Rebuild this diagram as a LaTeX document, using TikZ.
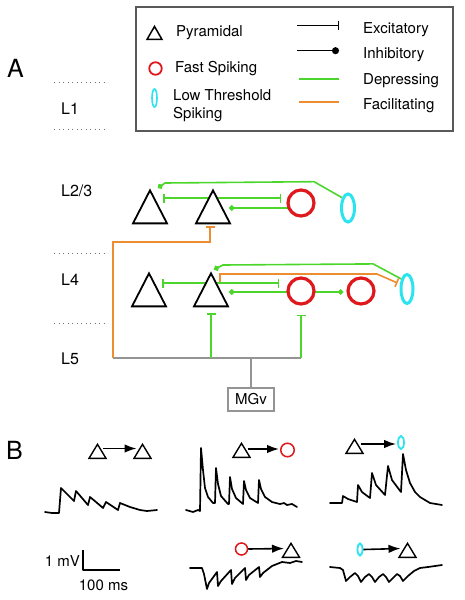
\documentclass[tikz,border=0pt]{standalone}
\usepackage{fontspec}
\setmainfont{TeX Gyre Heros}
\usetikzlibrary{arrows.meta,shapes.geometric,backgrounds,calc}

\definecolor{depgreen}{RGB}{76,214,44}
\definecolor{facorange}{RGB}{238,140,48}
\definecolor{fsred}{RGB}{222,24,28}
\definecolor{ltscyan}{RGB}{44,228,240}

\begin{document}
\begin{tikzpicture}[x=1pt, y=-1pt,
    every node/.style={font=\fontsize{15}{18}\selectfont},
    txt/.style={inner sep=0pt, anchor=base west},
    lbl/.style={txt, font=\fontsize{16}{16}\selectfont},
    panel/.style={txt, font=\fontsize{25}{25}\selectfont},
    pyr/.style={draw, fill=white, line width=1.8pt, isosceles triangle, isosceles triangle stretches,
        shape border rotate=90, minimum width=34pt, minimum height=33pt, inner sep=0pt, anchor=apex},
    pyrs/.style={pyr, line width=1.4pt, minimum width=17pt, minimum height=14pt},
    fs/.style={circle, draw=fsred, fill=white, line width=3.2pt, minimum size=26pt, inner sep=0pt},
    lts/.style={ellipse, draw=ltscyan, fill=white, line width=3pt, minimum width=13pt, minimum height=28pt, inner sep=0pt},
    syn/.style={line width=1.6pt},
    dep/.style={syn, draw=depgreen},
    fac/.style={syn, draw=facorange},
    exc/.style={-{Bar[width=9pt]}},
    inh/.style={-{Circle[length=5.5pt]}},
    thal/.style={line width=1.5pt, draw=black!42},
    laysep/.style={draw=black!55, line width=0.9pt, dash pattern=on 0.9pt off 3.6pt},
    icoarr/.style={line width=1.6pt, -{Latex[length=12pt,width=8.5pt]}, shorten >=1pt},
    trace/.style={line width=1.7pt, line join=round, line cap=round}]

\useasboundingbox (0,0) rectangle (465,600);

% key
\node[draw=black!65, line width=1.3pt, minimum width=317pt, minimum height=124pt, inner sep=0pt] (key) at (294.5,69) {};
\node[pyr, line width=1.5pt, minimum width=15pt, minimum height=13pt] (kPyr) at (154.5,24.5) {};
\node[txt] (tPyr) at (176,36.5) {Pyramidal};
\node[fs, line width=1.8pt, minimum size=12.5pt] (kFs) at (155.5,68.5) {};
\node[txt] (tFs) at (175,72.7) {Fast Spiking};
\node[lts, line width=1.6pt, minimum width=5pt, minimum height=18pt] (kLts) at (154.5,98) {};
\node[txt] (tLts) at (173,100.7) {Low Threshold};
\node[txt] (tLts2) at (173,118.5) {Spiking};
\node[txt] (tExc) at (363,33.3) {Excitatory};
\node[txt] (tInh) at (363,58.3) {Inhibitory};
\node[txt] (tDep) at (363,84.3) {Depressing};
\node[txt] (tFac) at (363,109) {Facilitating};
\draw[syn, line width=1.4pt, exc] ($(tExc.base west)+(-66,-8)$) -- ($(tExc.base west)+(-24,-8)$);
\draw[syn, line width=1.4pt, -{Circle[length=7pt]}] ($(tInh.base west)+(-66,-7.6)$) -- ($(tInh.base west)+(-24,-7.6)$);
\draw[dep] ($(tDep.base west)+(-64,-5.3)$) -- ($(tDep.base west)+(-24,-5.3)$);
\draw[fac] ($(tFac.base west)+(-64,-7.3)$) -- ($(tFac.base west)+(-24,-7.3)$);

% panel A
\node[panel] (pA) at (7,77) {A};
\foreach \y in {82,129,253,323}
    \draw[laysep] (54,\y) -- (108,\y);
\node[lbl] (lay1) at (61,114) {L1};
\node[lbl] (lay23) at (61,196) {L2/3};
\node[lbl] (lay4) at (61,285) {L4};
\node[lbl] (lay5) at (61,364) {L5};

\node[pyr] (P23a) at (150,188) {};
\node[pyr] (P23b) at (213,188) {};
\node[fs] (F23) at (301,203) {};
\node[lts] (L23) at (348,208) {};

\node[pyr] (P4a) at (149,271) {};
\node[pyr] (P4b) at (211,271) {};
\node[fs] (F4a) at (301,291) {};
\node[fs] (F4b) at (361,291) {};
\node[lts, minimum width=12pt, minimum height=29pt] (L4) at (407,289) {};

\node[draw=black!42, line width=1.4pt, minimum width=46pt, minimum height=23pt, inner sep=0pt] (MGv) at (251,399.5) {MGv};
\coordinate (bus) at ($(MGv.north)+(0,-30)$);
\coordinate (busL) at (113,358);

\begin{scope}[on background layer]
    % L2/3
    \draw[dep, inh] (L23.120) -- ++(-28,-16) -- ($(P23a.apex)+(15,-5)$) -- ($(P23a.apex)+(8,0)$);
    \draw[dep, exc] ($(P23b.apex)+(0,10)$) -- ($(P23a.apex)+(13,10)$);
    \draw[dep, exc] ($(P23b.apex)+(0,10)$) -- ($(F23.west)+(-5,-5)$);
    \draw[dep, inh] ($(F23.center)+(0,5)$) -- ($(P23b.apex)+(16,20)$);
    % L4
    \draw[dep, inh] (L4.120) -- ++(-28,-15) -- ($(P4b.apex)+(12,-6)$) -- ($(P4b.apex)+(3,-1.5)$);
    \draw[fac, exc] ($(P4b.apex)+(9,12)$) -- ++(0,-9) -- ++(157,0) -- ($(L4.west)+(-2,-6)$);
    \draw[dep, exc] ($(P4b.apex)+(0,12)$) -- ($(P4a.apex)+(13,12)$);
    \draw[dep, exc] ($(P4b.apex)+(0,12)$) -- ($(F4a.west)+(-7,-8)$);
    \draw[dep, inh] ($(F4a.center)+(0,1)$) -- ($(P4b.apex)+(18,21)$);
    \draw[dep, inh] ($(F4a.center)+(0,1)$) -- ($(F4b.west)+(-3,1)$);
    % thalamic input
    \draw[thal] (MGv.north) -- (bus);
    \draw[thal] (busL) -- (busL -| F4a);
    \draw[dep, exc] (busL -| P4b) -- ($(P4b.apex)+(0,42)$);
    \draw[dep, exc] (busL -| F4a) -- ($(F4a.south)+(0,9)$);
    \draw[fac, exc] (busL) |- ($(P23b.apex)+(-3,54)$) -- ($(P23b.apex)+(-3,38)$);
\end{scope}

% panel B
\node[panel] (pB) at (6,459) {B};

\node[pyrs] (b1a) at (97.5,442.5) {};
\node[pyrs] (b1b) at (142.5,442.5) {};
\draw[icoarr] ($(b1a.apex)+(5.5,6)$) -- ($(b1b.apex)+(-5,6)$);
\node[pyrs] (b2a) at (241.5,441.5) {};
\node[fs, line width=1.5pt, minimum size=13.5pt] (b2b) at (287.5,450) {};
\draw[icoarr] ($(b2a.apex)+(6,7.5)$) coordinate (s2) -- (s2 -| b2b.west);
\node[pyrs] (b3a) at (354.5,437.5) {};
\node[lts, line width=1.8pt, minimum width=6pt, minimum height=13pt] (b3b) at (401,442.5) {};
\draw[icoarr] ($(b3a.apex)+(6,6.5)$) coordinate (s3) -- (s3 -| b3b.west);
\node[fs, line width=1.5pt, minimum size=12pt] (b4a) at (241.5,549) {};
\node[pyrs] (b4b) at (291,541.5) {};
\draw[icoarr] (b4a.east) -- ($(b4b.apex)+(-6,7)$);
\node[lts, line width=1.8pt, minimum width=5pt, minimum height=12pt] (b5a) at (360,549.5) {};
\node[pyrs] (b5b) at (407.5,541.5) {};
\draw[icoarr] (b5a.east) -- ($(b5b.apex)+(-6,7)$);

% traces
\draw[trace] plot coordinates {(45,512) (52,513) (59,513) (61,488) (67,494) (74,501) (76,491) (82,498)
    (88,505) (90,497) (96,502) (103,508) (106,502) (112,506) (118,510) (120,503) (130,507) (140,510)
    (147,511) (157,510)};
\draw[trace] plot coordinates {(186,510) (193,512) (198,510) (200,511) (201,448) (203,470) (205,488)
    (208,497) (213,503) (215,503) (216,468) (218,484) (221,496) (228,504) (229,504) (230,477) (232,489)
    (236,498) (243,504) (244,481) (246,490) (250,498) (258,503) (259,480) (261,489) (265,497) (272,502)
    (280,504) (284,503) (287,505) (292,504) (297,507)};
\draw[trace] plot coordinates {(330,503) (342,503) (343,496) (348,499) (357,502) (358,485) (362,492)
    (370,498) (372,473) (376,485) (385,495) (388,466) (392,480) (401,492) (403,454) (406,470) (410,483)
    (415,492) (420,497) (430,503) (442,505)};
\draw[trace] plot coordinates {(190,568) (202,568) (204,574) (207,589) (209,583) (217,572) (218,586)
    (221,581) (231,570) (232,584) (235,578) (245,568) (246,580) (249,575) (259,567) (260,577) (263,573)
    (272,566) (282,562) (290,563) (296,561) (302,562)};
\draw[trace] plot coordinates {(330,567) (340,568) (343,570) (346,581) (350,577) (355,573) (358,576)
    (361,582) (365,577) (369,574) (372,577) (375,582) (379,577) (383,574) (386,577) (389,582) (393,578)
    (397,574) (400,576) (403,581) (408,576) (414,571) (420,568) (428,567) (435,566) (442,565)};

% scale bar
\draw[trace, line cap=butt] (83,550) -- (83,570) -- (120,570);
\node[inner sep=0pt, anchor=base east] (sV) at (80,566.7) {1 mV};
\node[inner sep=0pt, anchor=base] (sT) at (103.5,590) {100 ms};
\end{tikzpicture}
\end{document}
